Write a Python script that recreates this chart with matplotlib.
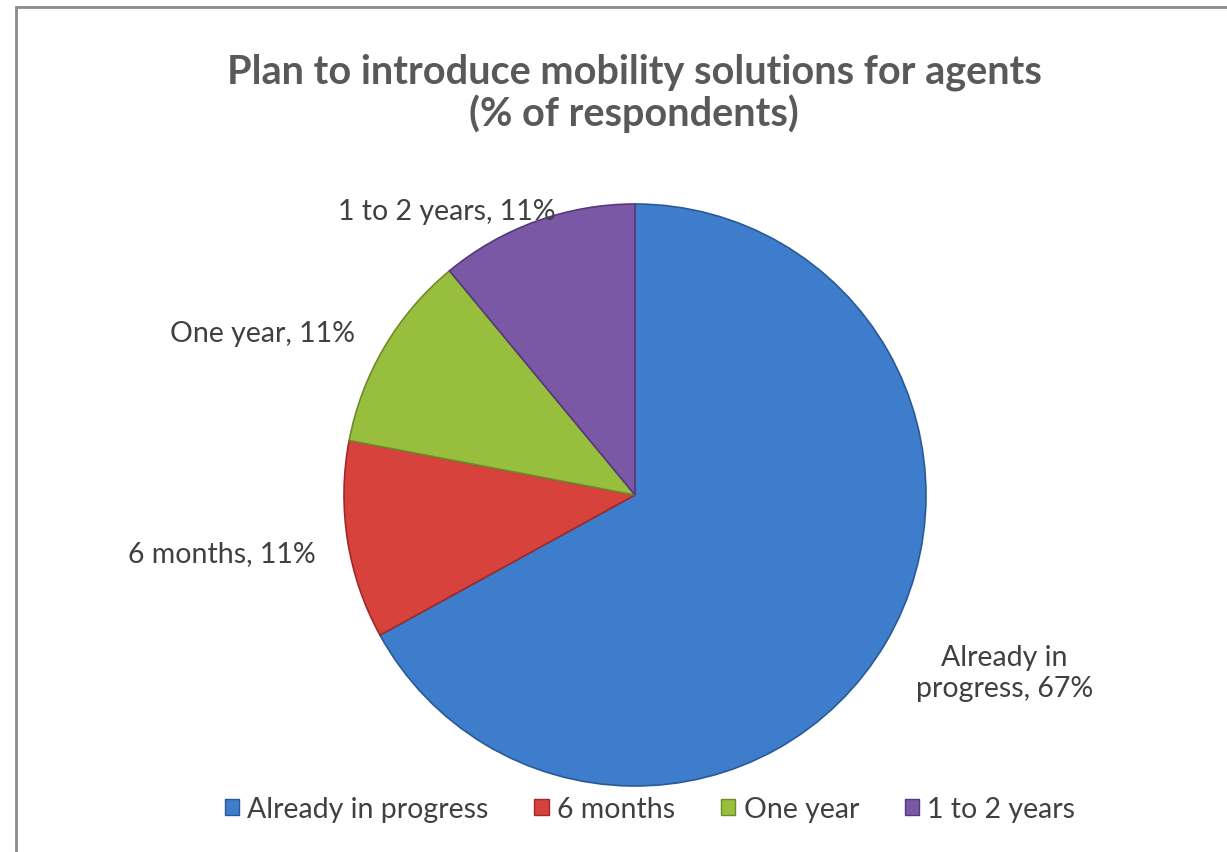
import matplotlib.pyplot as plt
from matplotlib.patches import Rectangle, Patch

categories = ['Already in progress', '6 months', 'One year', '1 to 2 years']
values = [67, 11, 11, 11]
pct_labels = ['67%', '11%', '11%', '11%']
colors = ['#3E7DCC', '#D7423D', '#98BE3E', '#7B58A6']
edges = ['#2A5A96', '#9C2B27', '#6E8C2A', '#55397A']

plt.rcParams['font.family'] = ['Lato', 'DejaVu Sans']

fig = plt.figure(figsize=(12.27, 8.53), dpi=100)
fig.patches.append(Rectangle((16 / 1227, -0.01), 1.0, 1 - 8 / 853 + 0.01,
                             transform=fig.transFigure, fill=False,
                             edgecolor='#8c8c8c', linewidth=2))

# pie axes: centre (635, 496) px, radius ~291 px
size = 600
cx, cy = 635, 496
ax = fig.add_axes([(cx - size / 2) / 1227, (853 - cy - size / 2) / 853,
                   size / 1227, size / 853])
wedges, _ = ax.pie(values, colors=colors, startangle=90, counterclock=False,
                   radius=291 / 300,
                   wedgeprops=dict(linewidth=1.2))
for w, ec in zip(wedges, edges):
    w.set_edgecolor(ec)
ax.set_xlim(-1, 1)
ax.set_ylim(-1, 1)
ax.set_aspect('equal')

# data labels, positions in units of the pie radius
r = 291 / 300
label_pos = [(1.27, -0.61), (-1.42, -0.20), (-1.28, 0.555), (-0.645, 0.975)]
label_text = ['Already in\nprogress, ' + pct_labels[0],
              categories[1] + ', ' + pct_labels[1],
              categories[2] + ', ' + pct_labels[2],
              categories[3] + ', ' + pct_labels[3]]
for (lx, ly), t in zip(label_pos, label_text):
    ax.text(lx * r, ly * r, t, ha='center', va='center', fontsize=20.5,
            color='#404040', linespacing=1.2)

fig.text(634 / 1227, 1 - 93 / 853,
         'Plan to introduce mobility solutions for agents\n(% of respondents)',
         ha='center', va='center', fontsize=28.5, fontweight='bold',
         color='#595959', linespacing=1.12)

handles = [Patch(facecolor=c, edgecolor=e) for c, e in zip(colors, edges)]
fig.legend(handles, categories, loc='center', ncol=4, frameon=False,
           bbox_to_anchor=(650 / 1227, 43 / 853), fontsize=20.5,
           labelcolor='#404040', handlelength=0.5, handleheight=0.5,
           handletextpad=0.3, columnspacing=1.6)

fig.savefig('out.png', dpi=100)
